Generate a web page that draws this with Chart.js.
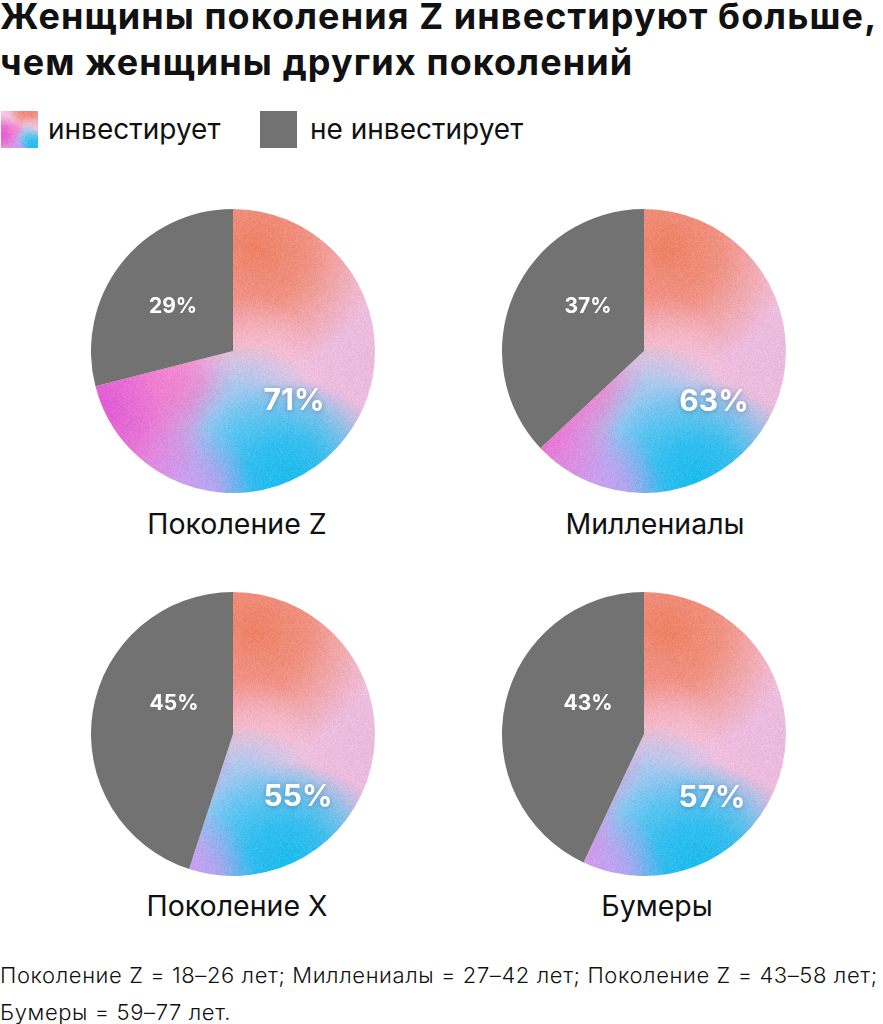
<!DOCTYPE html>
<html lang="ru">
<head>
<meta charset="utf-8">
<title>Женщины поколения Z инвестируют больше</title>
<script src="https://cdn.jsdelivr.net/npm/chart.js@4.4.1/dist/chart.umd.min.js"></script>
<style>
  body { margin: 0; width: 883px; height: 1024px; background: #fff; position: relative; overflow: hidden;
         font-family: Inter, 'Noto Sans', sans-serif; color: #111; }
  h1 { position: absolute; left: 0; top: -7px; margin: 0; font-size: 36px; font-weight: 700;
       line-height: 46px; letter-spacing: 1.1px; white-space: nowrap; }
  .swatch { position: absolute; top: 111px; width: 37px; height: 37px; }
  .legend-text { position: absolute; top: 112px; font-size: 28px; line-height: 34px; }
  .pie { position: absolute; }
  .cap { position: absolute; width: 320px; text-align: center; font-size: 28.5px; line-height: 34px; }
  .note { position: absolute; left: 0; top: 957px; font-size: 22px; line-height: 37px; font-weight: 300;
          letter-spacing: 0.6px; white-space: nowrap; }
</style>
</head>
<body>
<h1>Женщины поколения Z инвестируют больше,<br>чем женщины других поколений</h1>
<canvas id="swatch-invest" class="swatch" width="37" height="37" style="left:1px"></canvas>
<div class="legend-text" id="leg0" style="left:48px"></div>
<div class="swatch" style="left:260px; background:#727272"></div>
<div class="legend-text" id="leg1" style="left:310px"></div>
<div id="pies"></div>
<div class="note">Поколение Z = 18–26 лет; Миллениалы = 27–42 лет; Поколение Z = 43–58 лет;<br>Бумеры = 59–77 лет.</div>

<script>
// data
const generations = ['Поколение Z', 'Миллениалы', 'Поколение X', 'Бумеры'];
const investPct = [71, 63, 55, 57];
const notInvestPct = [29, 37, 45, 43];
const seriesNames = ['инвестирует', 'не инвестирует'];

// layout (pixels)
const pieCenters = [[233, 351], [644, 351], [233, 734], [644, 734]];
const pieRadius = 142;
const captionCenters = [[237, 524], [655, 524], [237, 906], [657, 906]];
const greyLabelOffset = [[-60, -44], [-56, -44], [-59, -30], [-56, -30]];
const colorLabelOffset = [[61, 50], [70, 51], [65, 63], [68, 64]];

const GREY = '#727272';

function hexRgba(hex, a) {
    const n = parseInt(hex.slice(1), 16);
    return 'rgba(' + (n >> 16) + ',' + ((n >> 8) & 255) + ',' + (n & 255) + ',' + a + ')';
}

function blob(g, x, y, rad, color, alpha) {
    const gr = g.createRadialGradient(x, y, 0, x, y, rad);
    gr.addColorStop(0, hexRgba(color, alpha));
    gr.addColorStop(0.45, hexRgba(color, alpha * 0.75));
    gr.addColorStop(1, hexRgba(color, 0));
    g.fillStyle = gr;
    g.fillRect(x - rad, y - rad, rad * 2, rad * 2);
}

// soft mesh-like gradient, positioned relative to the pie centre
function paintMesh(g, cx, cy, r, w, h) {
    g.fillStyle = '#F4C3DF';
    g.fillRect(0, 0, w, h);
    blob(g, cx + 1.0 * r, cy + 0.1 * r, 0.7 * r, '#E9B9DD', 0.9);
    blob(g, cx + 0.15 * r, cy - 0.72 * r, 0.88 * r, '#EE8163', 1);
    blob(g, cx + 0.0 * r, cy - 0.35 * r, 0.4 * r, '#F1908A', 0.5);
    blob(g, cx + 0.15 * r, cy + 0.0 * r, 0.4 * r, '#F7C6E2', 0.6);
    blob(g, cx + 0.05 * r, cy + 0.55 * r, 0.62 * r, '#86C9F3', 1);
    blob(g, cx + 0.5 * r, cy + 0.6 * r, 0.38 * r, '#8ACBF2', 0.6);
    blob(g, cx + 0.4 * r, cy + 1.0 * r, 0.8 * r, '#10BBEE', 1);
    blob(g, cx - 0.35 * r, cy + 1.0 * r, 0.5 * r, '#C89BF0', 0.95);
    blob(g, cx - 0.95 * r, cy + 0.4 * r, 0.8 * r, '#E15AD3', 1);
    blob(g, cx - 0.4 * r, cy + 0.18 * r, 0.4 * r, '#F57ACB', 0.7);

    // a little grain, deterministic
    const img = g.getImageData(0, 0, w, h);
    const d = img.data;
    for (let i = 0; i < d.length; i += 4) {
        const p = i / 4;
        const v = Math.sin(p * 12.9898 + (p % 97) * 78.233) * 43758.5453;
        const n = ((v - Math.floor(v)) - 0.5) * 14;
        d[i] += n; d[i + 1] += n; d[i + 2] += n;
    }
    g.putImageData(img, 0, 0);
}

function meshFill(chart) {
    if (chart.$mesh) return chart.$mesh;
    const area = chart.chartArea;
    if (!area) return GREY;
    const off = document.createElement('canvas');
    off.width = chart.width;
    off.height = chart.height;
    const g = off.getContext('2d');
    const cx = (area.left + area.right) / 2;
    const cy = (area.top + area.bottom) / 2;
    const r = Math.min(area.right - area.left, area.bottom - area.top) / 2;
    paintMesh(g, cx, cy, r, off.width, off.height);
    chart.$mesh = chart.ctx.createPattern(off, 'no-repeat');
    return chart.$mesh;
}

// legend
(function() {
    const c = document.getElementById('swatch-invest');
    paintMesh(c.getContext('2d'), 24, 14, 24, c.width, c.height);
    document.getElementById('leg0').textContent = seriesNames[0];
    document.getElementById('leg1').textContent = seriesNames[1];
})();

const pctLabels = {
    id: 'pctLabels',
    afterDatasetsDraw(chart, args, opts) {
        const arc = chart.getDatasetMeta(0).data[0];
        const values = chart.data.datasets[0].data;
        const k = opts.index;
        const ctx = chart.ctx;
        ctx.save();
        ctx.textAlign = 'center';
        ctx.textBaseline = 'middle';
        ctx.fillStyle = '#fff';

        ctx.font = '700 21px Inter, sans-serif';
        ctx.fillText(values[1] + '%', arc.x + greyLabelOffset[k][0], arc.y + greyLabelOffset[k][1]);

        ctx.font = '700 30px Inter, sans-serif';
        ctx.shadowColor = 'rgba(40, 40, 90, 0.35)';
        ctx.shadowBlur = 5;
        ctx.shadowOffsetY = 1;
        ctx.fillText(values[0] + '%', arc.x + colorLabelOffset[k][0], arc.y + colorLabelOffset[k][1]);
        ctx.restore();
    }
};

const holder = document.getElementById('pies');
generations.forEach(function(name, i) {
    const size = pieRadius * 2;
    const canvas = document.createElement('canvas');
    canvas.className = 'pie';
    canvas.width = size;
    canvas.height = size;
    canvas.style.left = (pieCenters[i][0] - pieRadius) + 'px';
    canvas.style.top = (pieCenters[i][1] - pieRadius) + 'px';
    holder.appendChild(canvas);

    const cap = document.createElement('div');
    cap.className = 'cap';
    cap.textContent = name;
    cap.style.left = (captionCenters[i][0] - 160) + 'px';
    cap.style.top = (captionCenters[i][1] - 17) + 'px';
    holder.appendChild(cap);

    new Chart(canvas, {
        type: 'pie',
        data: {
            labels: seriesNames,
            datasets: [{
                data: [investPct[i], notInvestPct[i]],
                backgroundColor: function(context) {
                    return context.dataIndex === 0 ? meshFill(context.chart) : GREY;
                },
                borderWidth: 0
            }]
        },
        options: {
            responsive: false,
            animation: false,
            events: [],
            layout: { padding: 0 },
            plugins: {
                legend: { display: false },
                tooltip: { enabled: false },
                pctLabels: { index: i }
            }
        },
        plugins: [pctLabels]
    });
});
</script>
</body>
</html>
